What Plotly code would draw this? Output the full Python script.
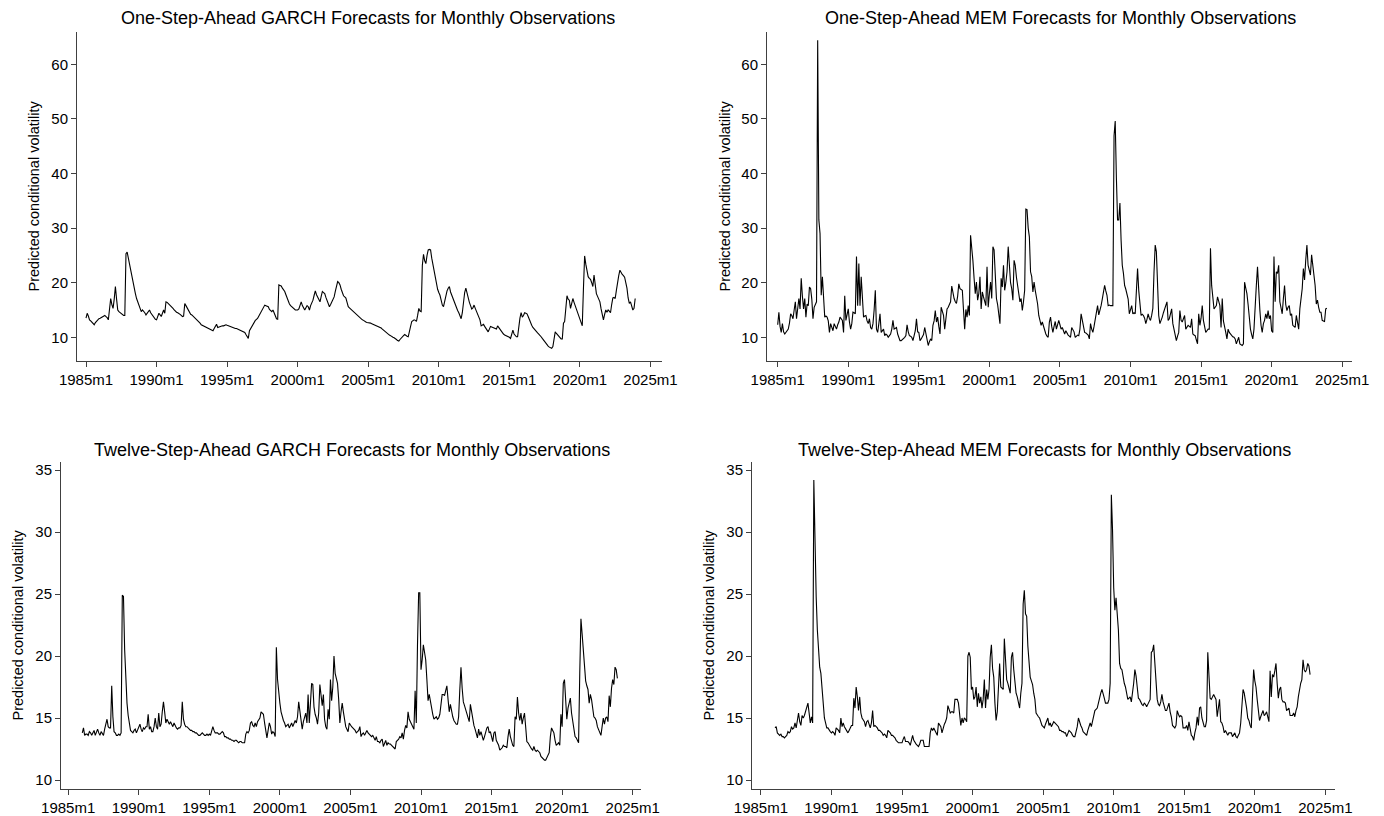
import plotly.graph_objects as go

W, H = 1384, 816

# Monthly forecasts of conditional volatility, one row per calendar year.
# One-step-ahead series run 1985m1-2023m12, twelve-step-ahead 1986m1-2023m12.
garch_1step = [
    13.5, 14.4, 13.9, 13.2, 13.0, 12.7, 12.5, 12.3, 12.7, 13.0, 13.2, 13.4,
    13.5, 13.6, 13.8, 13.9, 14.0, 13.8, 13.6, 13.2, 14.8, 17.1, 16.0, 15.3,
    17.0, 19.3, 17.0, 15.0, 14.7, 14.5, 14.3, 14.1, 14.0, 14.0, 25.3, 25.6,
    24.5, 22.9, 21.8, 20.8, 19.9, 18.9, 18.0, 17.1, 16.5, 16.0, 15.6, 14.7,
    15.0, 14.8, 14.5, 14.1, 14.4, 14.7, 15.0, 14.5, 14.2, 13.8, 13.5, 13.3,
    13.2, 13.8, 14.4, 14.1, 13.8, 14.4, 15.0, 14.4, 16.5, 16.4, 16.2, 16.0,
    15.8, 15.6, 15.3, 15.0, 14.7, 14.6, 14.5, 14.4, 14.2, 14.0, 13.8, 13.9,
    16.2, 15.8, 15.4, 15.0, 14.6, 14.2, 14.1, 13.9, 13.7, 13.5, 13.3, 13.1,
    12.9, 12.6, 12.3, 12.2, 12.1, 12.0, 11.9, 11.8, 11.6, 11.5, 11.4, 11.3,
    11.2, 11.6, 12.0, 12.4, 11.8, 11.9, 12.0, 12.0, 12.1, 12.1, 12.2, 12.3,
    12.2, 12.1, 12.0, 11.9, 11.8, 11.7, 11.7, 11.6, 11.6, 11.5, 11.4, 11.4,
    11.3, 11.2, 11.1, 10.9, 10.5, 10.1, 9.8, 11.2, 11.6, 12.0, 12.4, 12.8,
    13.1, 13.3, 13.5, 13.9, 14.3, 14.7, 15.1, 15.5, 15.9, 15.8, 15.7, 15.6,
    15.1, 14.8, 14.7, 15.0, 14.4, 14.0, 13.4, 13.3, 19.6, 19.5, 19.4, 19.0,
    18.7, 18.4, 17.8, 17.2, 16.5, 16.1, 15.8, 15.6, 15.4, 15.2, 15.0, 15.0,
    15.0, 15.2, 15.8, 16.5, 15.8, 15.3, 15.0, 15.4, 15.8, 15.6, 15.0, 15.8,
    16.3, 16.8, 17.7, 18.5, 17.8, 17.3, 16.7, 16.5, 17.5, 18.4, 18.2, 18.0,
    17.3, 16.6, 16.0, 15.6, 16.0, 16.5, 17.0, 17.4, 18.4, 19.3, 20.2, 20.0,
    19.6, 18.8, 18.0, 17.6, 17.4, 17.2, 16.4, 15.6, 15.4, 15.2, 15.0, 14.8,
    14.6, 14.4, 14.2, 14.0, 13.8, 13.6, 13.3, 13.2, 13.1, 12.9, 12.8, 12.7,
    12.7, 12.6, 12.6, 12.5, 12.4, 12.4, 12.3, 12.2, 12.1, 12.0, 11.8, 11.7,
    11.5, 11.3, 11.1, 10.9, 10.7, 10.5, 10.4, 10.3, 10.1, 10.0, 9.9, 9.8,
    9.6, 9.4, 9.3, 9.6, 9.9, 10.1, 10.3, 10.5, 10.3, 10.2, 10.1, 11.3,
    12.0, 12.9, 13.1, 13.2, 13.1, 12.9, 14.0, 15.3, 14.8, 14.7, 23.2, 25.2,
    24.0, 23.5, 25.0, 26.0, 26.1, 26.0, 24.5, 23.2, 22.0, 20.8, 19.6, 18.8,
    18.2, 17.7, 16.8, 15.9, 15.6, 16.8, 18.0, 18.5, 19.0, 19.3, 18.3, 17.7,
    17.0, 16.5, 16.0, 15.5, 14.9, 14.5, 14.0, 13.4, 14.5, 16.5, 18.2, 19.0,
    18.0, 17.1, 16.4, 15.8, 15.2, 15.4, 15.9, 15.3, 14.7, 14.2, 13.7, 13.2,
    12.1, 12.3, 12.4, 12.0, 11.6, 11.3, 11.0, 11.5, 12.0, 11.9, 11.8, 11.8,
    11.6, 11.5, 12.1, 11.8, 11.4, 11.0, 10.8, 10.6, 10.4, 10.3, 10.2, 10.2,
    10.0, 9.8, 10.5, 11.3, 10.6, 10.3, 10.1, 10.1, 12.6, 13.5, 14.5, 13.7,
    14.0, 14.5, 14.4, 14.3, 13.8, 13.2, 12.7, 12.2, 11.8, 11.5, 11.3, 11.0,
    10.8, 10.6, 10.4, 10.1, 9.8, 9.5, 9.2, 8.8, 8.6, 8.4, 8.2, 8.1,
    8.0, 8.3, 10.1, 11.0, 10.7, 10.4, 10.1, 9.8, 9.7, 9.7, 12.6, 12.9,
    15.5, 17.6, 17.0, 16.8, 15.3, 16.3, 17.1, 16.4, 15.8, 15.2, 14.4, 13.9,
    13.2, 12.6, 12.1, 19.0, 24.9, 23.4, 22.0, 21.1, 20.8, 20.6, 20.0, 19.3,
    21.4, 19.8, 18.0, 17.5, 17.0, 16.5, 15.2, 14.0, 13.2, 14.2, 15.0, 14.6,
    15.0, 14.8, 14.5, 16.0, 17.2, 17.3, 17.1, 18.6, 20.2, 21.3, 22.3, 21.7,
    21.5, 21.3, 21.0, 20.0, 19.0, 17.2, 16.2, 16.5, 15.5, 15.0, 15.3, 17.1,
]

mem_1step = [
    12.3, 14.6, 12.0, 10.9, 12.5, 11.0, 10.6, 10.9, 11.2, 11.5, 12.6, 14.3,
    14.0, 13.4, 15.0, 16.5, 13.4, 15.3, 17.1, 15.2, 20.8, 17.5, 15.2, 17.1,
    13.7, 16.1, 15.8, 19.2, 18.9, 17.0, 13.4, 15.5, 16.2, 16.5, 64.4, 31.5,
    29.0, 17.7, 21.1, 16.0, 13.7, 13.9, 13.7, 13.0, 10.9, 12.5, 11.8, 11.2,
    12.5, 12.0, 11.5, 12.3, 12.8, 13.7, 13.4, 13.1, 10.9, 17.6, 13.1, 14.0,
    15.2, 12.8, 11.5, 12.5, 14.6, 14.5, 14.3, 24.8, 15.8, 23.5, 15.8, 21.1,
    16.0, 13.7, 13.9, 14.0, 13.0, 12.5, 13.4, 11.8, 11.5, 12.5, 15.0, 18.6,
    11.5, 10.9, 12.5, 14.3, 10.9, 11.2, 11.5, 10.3, 10.6, 10.4, 10.0, 10.3,
    10.6, 11.5, 13.1, 11.5, 11.6, 11.8, 10.6, 9.8, 9.4, 9.4, 9.6, 9.7,
    10.0, 10.3, 12.3, 11.0, 10.3, 10.2, 10.0, 9.4, 10.2, 11.2, 13.4, 11.0,
    10.9, 9.4, 9.7, 10.0, 10.5, 11.8, 10.5, 10.0, 8.5, 9.2, 9.7, 9.4,
    12.2, 13.0, 14.9, 12.8, 13.7, 12.0, 10.6, 15.5, 14.5, 14.0, 11.5, 14.0,
    15.2, 15.5, 16.0, 16.5, 19.4, 18.0, 17.1, 16.5, 16.2, 17.5, 19.8, 18.9,
    18.8, 18.6, 15.0, 11.5, 15.1, 13.7, 15.8, 14.0, 28.7, 26.9, 24.0, 20.8,
    18.0, 20.1, 16.8, 18.0, 21.1, 15.2, 18.3, 17.4, 16.5, 15.8, 22.9, 15.5,
    18.0, 20.1, 17.1, 26.6, 26.0, 22.0, 17.1, 16.0, 14.6, 12.5, 20.8, 19.2,
    23.2, 18.6, 20.0, 22.0, 26.6, 22.0, 20.0, 18.9, 16.8, 24.1, 23.2, 21.0,
    19.5, 17.5, 16.5, 17.1, 14.9, 16.5, 18.6, 33.5, 33.4, 30.0, 28.4, 22.0,
    21.1, 18.3, 20.1, 18.6, 17.5, 16.1, 14.0, 13.0, 12.2, 12.8, 12.0, 11.2,
    10.6, 10.2, 10.0, 12.8, 13.7, 12.0, 10.9, 12.0, 12.9, 11.5, 12.2, 13.1,
    12.3, 11.5, 11.8, 11.0, 10.6, 11.2, 10.6, 10.4, 10.2, 10.0, 11.8, 11.4,
    11.0, 10.0, 10.2, 10.4, 10.3, 11.5, 14.3, 13.1, 12.0, 10.9, 10.8, 10.6,
    10.4, 9.7, 12.5, 11.5, 10.9, 12.0, 13.1, 14.0, 15.8, 14.1, 14.8, 15.8,
    17.0, 18.0, 19.5, 18.5, 17.7, 15.8, 15.9, 15.8, 15.8, 15.8, 46.9, 49.6,
    39.2, 31.5, 31.5, 34.6, 27.8, 23.2, 21.7, 19.5, 18.8, 18.0, 17.0, 14.3,
    15.0, 15.8, 14.3, 14.5, 14.3, 20.1, 22.6, 18.6, 16.0, 14.0, 14.2, 14.0,
    13.5, 12.5, 13.3, 14.3, 13.5, 13.1, 14.0, 15.3, 22.0, 26.9, 25.7, 18.3,
    14.0, 12.5, 13.0, 13.7, 14.5, 15.2, 16.0, 16.5, 13.1, 13.4, 14.3, 15.2,
    12.5, 11.5, 10.9, 9.4, 10.2, 10.9, 14.9, 13.1, 12.8, 13.5, 14.0, 11.5,
    11.8, 12.2, 12.0, 11.8, 13.4, 10.6, 10.4, 10.3, 9.5, 8.8, 14.3, 12.2,
    13.5, 15.8, 13.1, 12.0, 10.9, 11.2, 11.5, 11.5, 26.3, 19.5, 17.0, 15.2,
    15.5, 15.8, 17.4, 16.5, 15.8, 11.8, 17.1, 13.0, 11.5, 10.9, 9.7, 11.5,
    10.9, 10.6, 10.3, 10.1, 10.0, 9.7, 8.8, 9.6, 10.0, 8.8, 8.6, 8.5,
    8.8, 20.1, 19.0, 18.0, 16.0, 13.4, 11.5, 10.5, 9.7, 11.5, 14.6, 19.5,
    22.9, 18.3, 15.0, 12.2, 10.9, 12.5, 13.1, 14.3, 13.4, 14.9, 13.4, 14.0,
    11.2, 10.9, 24.8, 16.5, 22.0, 21.7, 23.2, 16.5, 15.0, 14.3, 17.1, 19.5,
    16.0, 14.9, 15.5, 15.8, 14.0, 14.3, 12.2, 12.0, 11.8, 14.0, 12.5, 11.5,
    15.2, 17.0, 18.9, 22.6, 20.5, 24.1, 26.9, 23.2, 22.0, 21.4, 25.1, 23.2,
    21.5, 19.5, 16.1, 16.8, 15.5, 14.6, 14.6, 13.1, 13.0, 12.9, 15.2, 15.3,
]

garch_12step = [
    13.8, 14.2, 13.6, 13.7, 13.7, 13.6, 13.9, 13.8, 13.6, 13.8, 14.0, 13.6,
    13.8, 14.1, 13.8, 13.6, 13.9, 13.7, 13.6, 14.1, 14.5, 14.9, 14.3, 14.2,
    14.2, 17.6, 15.1, 13.9, 13.8, 13.6, 13.6, 13.7, 13.6, 13.8, 24.9, 24.8,
    20.5, 18.0, 16.2, 15.2, 14.5, 14.0, 13.9, 13.8, 14.0, 14.1, 13.8, 14.0,
    14.2, 14.5, 14.1, 13.9, 14.2, 14.1, 14.3, 14.3, 15.3, 14.1, 14.3, 13.9,
    13.9, 14.3, 15.0, 14.3, 14.1, 15.4, 14.3, 14.5, 15.5, 16.3, 15.5, 14.6,
    14.9, 14.6, 14.5, 14.7, 14.4, 14.3, 14.6, 14.3, 14.2, 14.1, 14.2, 14.2,
    14.4, 16.3, 14.9, 14.5, 14.3, 14.3, 14.2, 14.1, 14.0, 14.0, 13.9, 13.9,
    13.8, 13.8, 13.7, 13.6, 13.6, 13.7, 13.8, 13.7, 13.6, 13.6, 13.7, 13.6,
    13.7, 13.6, 14.1, 14.3, 14.0, 13.8, 13.8, 13.8, 13.7, 13.7, 13.8, 13.9,
    13.8, 13.5, 13.5, 13.4, 13.4, 13.3, 13.3, 13.2, 13.2, 13.1, 13.2, 13.2,
    13.1, 13.0, 13.1, 13.1, 13.0, 13.0, 13.0, 13.7, 13.9, 13.8, 14.0, 14.6,
    14.7, 14.4, 14.3, 14.6, 14.3, 14.7, 14.9, 15.0, 15.5, 15.4, 15.3, 14.6,
    14.0, 13.4, 14.0, 14.6, 14.3, 13.7, 13.9, 13.8, 13.5, 20.7, 18.1, 16.8,
    16.2, 15.5, 15.1, 14.8, 14.6, 14.3, 14.4, 14.5, 14.2, 14.4, 14.6, 14.3,
    14.6, 14.8, 14.6, 15.1, 16.3, 15.5, 14.8, 14.1, 14.7, 15.2, 15.4, 14.6,
    16.9, 14.6, 16.0, 17.8, 17.7, 15.9, 15.3, 15.0, 14.5, 15.4, 17.7, 16.5,
    16.0, 16.9, 14.9, 14.3, 14.1, 15.7, 14.9, 18.1, 16.4, 17.5, 20.0, 18.6,
    18.2, 17.8, 16.5, 14.6, 15.5, 16.2, 15.5, 14.7, 14.3, 14.1, 13.9, 14.6,
    14.4, 14.3, 14.2, 14.1, 14.0, 13.8, 13.9, 14.0, 14.3, 13.5, 13.7, 13.8,
    13.6, 13.8, 14.0, 13.8, 13.7, 13.6, 13.5, 13.6, 13.4, 13.2, 13.5, 13.1,
    13.1, 13.0, 13.2, 13.3, 12.7, 13.0, 13.2, 12.8, 13.0, 12.9, 12.9, 12.8,
    12.7, 12.6, 12.5, 13.1, 13.2, 13.3, 13.5, 13.4, 13.8, 13.3, 14.0, 14.4,
    14.2, 15.5, 14.9, 14.7, 14.6, 14.3, 14.1, 17.2, 14.6, 20.8, 25.1, 25.1,
    18.9, 19.7, 20.9, 20.3, 19.7, 18.1, 16.4, 16.9, 16.3, 15.9, 15.3, 14.9,
    15.0, 15.1, 14.9, 15.0, 15.3, 16.3, 16.9, 16.9, 16.8, 17.2, 17.6, 16.5,
    15.5, 16.1, 15.5, 15.1, 14.8, 14.6, 14.5, 14.5, 15.1, 17.3, 19.1, 17.4,
    16.3, 16.0, 15.7, 15.3, 15.0, 14.7, 16.1, 15.5, 14.8, 14.4, 14.1, 13.8,
    13.4, 14.1, 13.6, 13.9, 13.5, 13.2, 13.5, 13.9, 14.2, 14.3, 13.8, 13.9,
    13.4, 13.1, 13.8, 13.9, 13.2, 13.0, 12.8, 12.4, 12.5, 12.6, 12.8, 12.7,
    12.7, 12.6, 13.5, 14.1, 13.5, 13.0, 12.8, 12.7, 15.1, 14.9, 16.7, 15.4,
    14.8, 15.4, 14.5, 15.0, 15.4, 14.3, 13.1, 13.0, 12.8, 12.6, 12.5, 12.4,
    12.7, 12.4, 12.3, 12.4, 12.3, 12.2, 11.9, 11.8, 11.7, 11.6, 11.6, 11.8,
    11.9, 12.2, 13.5, 14.2, 14.0, 13.8, 13.2, 12.8, 12.9, 13.0, 12.8, 15.3,
    14.3, 17.8, 18.1, 16.8, 14.9, 15.8, 16.3, 16.6, 15.4, 14.6, 14.0, 13.5,
    13.4, 13.2, 13.0, 18.6, 23.0, 21.8, 20.5, 18.9, 18.0, 17.6, 17.3, 16.2,
    16.9, 16.5, 15.8, 15.1, 15.0, 14.8, 14.3, 14.0, 13.8, 13.6, 14.3, 15.0,
    14.5, 15.0, 15.1, 14.7, 16.8, 15.9, 17.4, 18.1, 17.7, 19.1, 18.9, 18.2,
]

mem_12step = [
    14.2, 14.3, 13.8, 13.7, 13.6, 13.7, 13.5, 13.5, 13.4, 13.5, 13.6, 13.9,
    13.8, 13.9, 14.3, 14.1, 14.2, 14.6, 14.2, 14.8, 15.4, 14.7, 14.4, 15.2,
    15.0, 15.2, 15.5, 15.9, 16.2, 15.4, 14.6, 15.1, 14.6, 34.2, 27.5, 24.8,
    22.1, 20.5, 19.1, 18.6, 17.3, 15.6, 15.0, 14.6, 14.2, 14.2, 14.0, 13.9,
    13.8, 13.9, 13.8, 13.6, 14.2, 14.1, 14.0, 13.8, 15.0, 14.3, 14.6, 14.3,
    14.1, 13.9, 13.8, 14.0, 14.2, 14.4, 14.4, 16.6, 15.8, 17.5, 16.7, 15.6,
    16.7, 15.4, 15.0, 14.8, 14.7, 14.3, 14.7, 14.8, 14.5, 14.2, 14.6, 15.6,
    14.3, 14.4, 14.3, 14.2, 14.0, 14.0, 13.9, 13.8, 13.6, 13.7, 13.6, 13.4,
    14.0, 13.9, 13.8, 13.6, 13.6, 13.5, 13.4, 13.2, 13.1, 13.0, 13.0, 13.0,
    13.0, 13.3, 13.5, 13.1, 13.1, 13.1, 13.0, 12.8, 13.2, 13.6, 13.2, 13.0,
    12.9, 12.8, 12.7, 12.9, 13.2, 13.2, 13.2, 12.7, 12.7, 12.7, 12.7, 12.7,
    13.8, 14.2, 14.0, 14.2, 14.0, 13.8, 13.6, 14.6, 14.4, 14.3, 13.8, 14.2,
    14.5, 14.7, 15.0, 16.0, 15.7, 15.4, 15.5, 15.5, 15.4, 16.5, 16.5, 16.5,
    16.2, 15.5, 14.4, 15.0, 14.6, 15.0, 14.9, 14.7, 20.0, 20.3, 19.9, 17.3,
    17.5, 16.5, 16.7, 17.5, 15.9, 17.0, 16.2, 16.7, 15.8, 16.5, 18.1, 15.8,
    17.3, 16.5, 17.3, 19.9, 20.9, 19.0, 18.3, 16.2, 14.8, 15.5, 17.0, 19.4,
    17.5, 17.4, 17.3, 21.4, 19.0, 18.1, 17.8, 17.4, 17.0, 19.9, 20.3, 18.9,
    17.8, 17.0, 16.7, 16.2, 15.8, 17.0, 17.8, 24.2, 25.3, 23.4, 23.2, 20.8,
    19.4, 18.3, 18.0, 17.7, 17.0, 16.5, 15.4, 15.2, 15.1, 15.0, 14.6, 14.4,
    14.3, 14.2, 14.5, 14.8, 15.0, 14.4, 14.6, 14.3, 14.5, 14.7, 14.6, 14.5,
    14.4, 14.3, 14.0, 14.0, 13.9, 13.9, 13.8, 13.8, 13.5, 13.8, 14.0, 13.9,
    13.8, 13.6, 13.5, 13.5, 13.9, 14.3, 15.0, 14.6, 14.4, 14.2, 13.9, 13.8,
    13.7, 13.6, 14.0, 14.3, 14.6, 14.3, 14.8, 15.4, 15.6, 15.7, 15.8, 16.2,
    16.7, 17.0, 17.3, 17.0, 16.6, 16.2, 16.2, 16.2, 16.5, 17.8, 33.0, 30.2,
    25.5, 23.7, 24.7, 23.2, 22.1, 19.4, 19.0, 18.9, 18.1, 17.8, 17.5, 17.0,
    16.5, 16.6, 16.7, 16.3, 17.0, 17.8, 18.9, 18.4, 17.5, 16.6, 16.5, 16.2,
    16.1, 16.0, 16.2, 16.1, 15.9, 16.1, 16.3, 16.5, 20.3, 20.4, 20.9, 19.5,
    18.3, 16.5, 16.1, 16.0, 16.3, 16.9, 16.3, 15.9, 15.6, 15.6, 15.9, 16.2,
    15.5, 15.1, 14.4, 14.3, 14.2, 14.4, 15.6, 15.3, 15.1, 15.2, 15.1, 14.2,
    14.2, 14.2, 14.4, 14.0, 14.7, 13.9, 13.6, 13.5, 13.2, 13.8, 14.2, 15.1,
    14.4, 15.8, 15.9, 15.0, 14.5, 14.3, 14.3, 14.8, 20.3, 18.3, 16.6, 16.5,
    16.7, 16.9, 16.7, 16.5, 15.1, 15.8, 16.5, 14.7, 14.6, 14.3, 13.8, 14.0,
    13.8, 13.6, 13.8, 13.8, 13.8, 13.5, 13.7, 13.8, 13.5, 13.4, 13.6, 13.8,
    14.6, 15.8, 17.3, 17.0, 16.5, 15.8, 15.0, 14.8, 14.4, 14.2, 16.7, 18.9,
    18.0, 17.5, 16.5, 15.5, 14.8, 15.1, 15.4, 15.6, 15.2, 15.3, 15.5, 15.0,
    14.7, 18.8, 16.7, 18.5, 18.3, 18.8, 19.4, 17.8, 16.6, 17.3, 17.5, 16.5,
    16.3, 16.3, 16.2, 15.6, 15.7, 15.8, 15.2, 15.2, 15.2, 15.4, 15.1, 15.6,
    15.9, 16.7, 17.3, 17.8, 18.1, 19.7, 18.9, 18.7, 18.9, 19.4, 19.2, 18.5,
]

# Time-axis labels, one every five years
tick_years = [1985, 1990, 1995, 2000, 2005, 2010, 2015, 2020, 2025]
tick_labels = ["1985m1", "1990m1", "1995m1", "2000m1", "2005m1",
               "2010m1", "2015m1", "2020m1", "2025m1"]

y_title = "Predicted conditional volatility"
FONT = "Arial, Liberation Sans, Helvetica, sans-serif"
AXIS_COLOR = "#404040"
PX_PER_MONTH = 1.176


def monthly_index(year, month):
    """Months elapsed since 1960m1 (Stata %tm convention)."""
    return (year - 1960) * 12 + (month - 1)


# Layout of each panel in pixels: axis box (left, right, top, bottom),
# pixel position of 1985m1, and a y reference (value, pixel, px per unit).
panels = [
    dict(series=garch_1step, start=(1985, 1),
         title="One-Step-Ahead GARCH Forecasts for Monthly Observations",
         box=(77, 662, 32, 361), x1985=86.0, yref=(10, 337.3, 5.46),
         yticks=[10, 20, 30, 40, 50, 60], title_pos=(368, 18), ytitle_x=33),
    dict(series=mem_1step, start=(1985, 1),
         title="One-Step-Ahead MEM Forecasts for Monthly Observations",
         box=(767, 1352, 32, 361), x1985=777.7, yref=(10, 337.3, 5.46),
         yticks=[10, 20, 30, 40, 50, 60], title_pos=(1060, 18), ytitle_x=724),
    dict(series=garch_12step, start=(1986, 1),
         title="Twelve-Step-Ahead GARCH Forecasts for Monthly Observations",
         box=(61, 641, 462, 789), x1985=68.2, yref=(10, 780.0, 12.4),
         yticks=[10, 15, 20, 25, 30, 35], title_pos=(352, 450), ytitle_x=17),
    dict(series=mem_12step, start=(1986, 1),
         title="Twelve-Step-Ahead MEM Forecasts for Monthly Observations",
         box=(752, 1335, 462, 789), x1985=760.9, yref=(10, 780.0, 12.4),
         yticks=[10, 15, 20, 25, 30, 35], title_pos=(1044, 450), ytitle_x=708),
]

fig = go.Figure()
annotations = []
t1985 = monthly_index(1985, 1)
tickvals = [monthly_index(y, 1) for y in tick_years]

for i, p in enumerate(panels, start=1):
    sfx = "" if i == 1 else str(i)
    left, right, top, bottom = p["box"]
    v0, py0, ppu = p["yref"]

    t0 = monthly_index(*p["start"])
    xs = [t0 + k for k in range(len(p["series"]))]
    fig.add_trace(go.Scatter(
        x=xs, y=p["series"], mode="lines",
        line=dict(color="black", width=1.1),
        xaxis="x" + sfx, yaxis="y" + sfx, hoverinfo="skip"))

    xr = [t1985 + (left - p["x1985"]) / PX_PER_MONTH,
          t1985 + (right - p["x1985"]) / PX_PER_MONTH]
    yr = [v0 - (bottom - py0) / ppu, v0 + (py0 - top) / ppu]

    common = dict(showgrid=False, zeroline=False, showline=True,
                  linecolor=AXIS_COLOR, linewidth=1, ticks="outside",
                  ticklen=5, tickwidth=1, tickcolor=AXIS_COLOR,
                  tickfont=dict(family=FONT, size=15, color="black"),
                  automargin=False, fixedrange=True)
    fig.update_layout(**{
        "xaxis" + sfx: dict(common, domain=[left / W, right / W],
                            range=xr, anchor="y" + sfx,
                            tickvals=tickvals, ticktext=tick_labels),
        "yaxis" + sfx: dict(common, domain=[1 - bottom / H, 1 - top / H],
                            range=yr, anchor="x" + sfx,
                            tickvals=p["yticks"], tickangle=0),
    })

    tx, ty = p["title_pos"]
    annotations.append(dict(
        text=p["title"], x=tx / W, y=1 - ty / H, xref="paper", yref="paper",
        xanchor="center", yanchor="middle", showarrow=False,
        font=dict(family=FONT, size=18, color="black")))
    annotations.append(dict(
        text=y_title, x=p["ytitle_x"] / W, y=1 - (top + bottom) / 2 / H,
        xref="paper", yref="paper", xanchor="center", yanchor="middle",
        textangle=-90, showarrow=False,
        font=dict(family=FONT, size=14.5, color="black")))

fig.update_layout(
    template="none",
    width=W, height=H, margin=dict(l=0, r=0, t=0, b=0, pad=0),
    paper_bgcolor="white", plot_bgcolor="white",
    showlegend=False, annotations=annotations,
)

fig.write_html("out.html", config={"displayModeBar": False})
